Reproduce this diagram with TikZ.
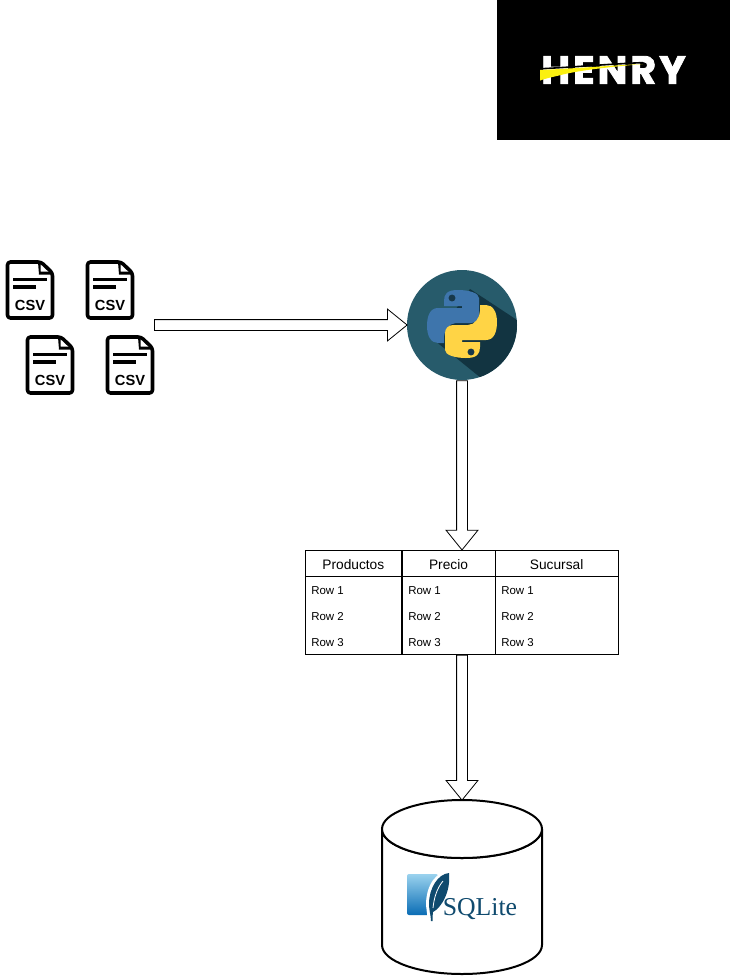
\documentclass[tikz,border=0pt]{standalone}
\usepackage{fontspec}
\setmainfont{Liberation Sans}
\newfontfamily\logofont{Poppins}[BoldFeatures={FakeBold=2.2}]
\newfontfamily\sqlfont{Liberation Serif}
\usetikzlibrary{calc,shapes.arrows}
\definecolor{pybg}{HTML}{275B6B}
\definecolor{pyshadow}{HTML}{123441}
\definecolor{pyblue}{HTML}{3E75AC}
\definecolor{pyyellow}{HTML}{FFD445}
\definecolor{pyeye}{HTML}{17384A}
\definecolor{sqlnavy}{HTML}{0F4A6E}
\definecolor{sqllight}{HTML}{9AD2EE}
\definecolor{sqldark}{HTML}{0A6DB5}
\definecolor{swoosh}{HTML}{FBF010}
\tikzset{
  blockarr/.style={draw=black,fill=white,line width=.6pt,single arrow,inner sep=3.75pt,
    minimum width=23.4pt,single arrow head extend=7.9pt,single arrow head indent=0pt,
    single arrow tip angle=78},
  headcell/.style={font=\fontsize{10.3pt}{12pt}\selectfont,anchor=center,inner sep=0pt},
  rowcell/.style={font=\fontsize{8.6pt}{10pt}\selectfont,anchor=west,inner sep=0pt},
  tablebox/.style={draw=black,line width=.6pt,inner sep=0pt,minimum width=235.1pt,minimum height=78.4pt},
  tablerule/.style={draw=black,line width=.6pt},
  docline/.style={line width=2.7pt,line join=round},
  csvdoc/.pic={
    \draw[docline,rounded corners=2.2pt,fill=white] (-22.5,-28) -- (11,-28) -- (22.5,-17) -- (22.5,28) -- (-22.5,28) -- cycle;
    \fill[black] (10.5,-28) -- (10.5,-18.5) -- (22.5,-18.5) -- (22.5,-15.5) -- (9,-15.5) -- (8,-28) -- cycle;
    \draw[line width=2.6pt] (-17,-10.5) -- (17,-10.5);
    \draw[line width=2.6pt] (-17,-3.2) -- (6,-3.2);
    \node[inner sep=0pt,font=\fontsize{11pt}{12pt}\selectfont\bfseries] (-label) at (0,15) {CSV};
  }
}
\newcommand{\blockconn}[3]{%
  \path let \p1=($(#3)-(#2)$),\n1={atan2(\y1,\x1)},\n2={veclen(\x1,\y1)} in
    (#2) node[blockarr,rotate=\n1,minimum height=\n2,anchor=tail] (#1) {};}
\begin{document}
\begin{tikzpicture}[x=.75pt,y=-.75pt]
\useasboundingbox (0,0) rectangle (732,976);
% HENRY logo
\node[fill=black,inner sep=0pt,minimum width=174.75pt,minimum height=105pt,anchor=north west] (logo) at (497,0) {};
\node[text=white,inner sep=0pt,font=\logofont\bfseries\fontsize{29.5pt}{30pt}\selectfont] (henry) at (613.5,70) {H\kern2.4pt E\kern2.4pt N\kern2.4pt R\kern2.4pt Y};
\draw[black,line width=1.2pt] (540,68.8) .. controls (575,67) and (610,64) .. (643,62.6);
\fill[swoosh] (540,70) .. controls (575,68.5) and (610,65.5) .. (643,64) .. controls (615,66.5) and (585,69.5) .. (565,74) .. controls (555,76.5) and (547,78) .. (540,80.5) -- cycle;
% CSV files
\pic (d1) at (30,290) {csvdoc};
\pic (d2) at (110,290) {csvdoc};
\pic (d3) at (50,365) {csvdoc};
\pic (d4) at (130,365) {csvdoc};
\coordinate (src) at (154,325);
% Python
\node[circle,fill=pybg,inner sep=0pt,minimum size=82.5pt] (py) at (462,325) {};
\begin{scope}
  \clip (462,325) circle [radius=41.25pt];
  \fill[pyshadow] (470,289) -- (517,320) -- (535,332) -- (535,410) -- (481,378) -- (434,340) -- cycle;
\end{scope}
\fill[pyblue] (458,290) .. controls (447,290) and (444,294) .. (444,301) -- (444,306) -- (462,306) -- (462,308) -- (438,308)
  .. controls (430,308) and (427,316) .. (427,326) .. controls (427,336) and (431,343) .. (438,343) -- (444,343) -- (444,337)
  .. controls (444,331) and (449,323) .. (456,323) -- (471,323) .. controls (476,323) and (479,319) .. (479,315) -- (479,298)
  .. controls (479,293) and (469,290) .. (458,290) -- cycle;
\fill[pyyellow] (466,358) .. controls (477,358) and (480,354) .. (480,347) -- (480,342) -- (462,342) -- (462,340) -- (486,340)
  .. controls (494,340) and (497,332) .. (497,322) .. controls (497,312) and (493,305) .. (486,305) -- (480,305) -- (480,311)
  .. controls (480,317) and (475,325) .. (468,325) -- (453,325) .. controls (448,325) and (445,329) .. (445,333) -- (445,350)
  .. controls (445,355) and (455,358) .. (466,358) -- cycle;
\fill[pyeye] (452,298) circle [radius=2.6pt];
\fill[pyeye] (471,352) circle [radius=2.6pt];
% Table
\node[tablebox] (tbl) at (462,602.2) {};
\draw[tablerule] (305,576.5) -- (619,576.5);
\draw[tablerule,line width=.9pt] (402,550) -- (402,654.5);
\draw[tablerule] (495,550) -- (495,654.5);
\node[headcell] (h1) at (353.3,564.7) {Productos};
\node[headcell] (h2) at (448.5,564.7) {Precio};
\node[headcell] (h3) at (556.6,564.7) {Sucursal};
\node[rowcell] (a1) at (311,590.7) {Row 1};
\node[rowcell] (a2) at (311,616.7) {Row 2};
\node[rowcell] (a3) at (311,642.7) {Row 3};
\node[rowcell] (b1) at (408,590.7) {Row 1};
\node[rowcell] (b2) at (408,616.7) {Row 2};
\node[rowcell] (b3) at (408,642.7) {Row 3};
\node[rowcell] (c1) at (501,590.7) {Row 1};
\node[rowcell] (c2) at (501,616.7) {Row 2};
\node[rowcell] (c3) at (501,642.7) {Row 3};
% Database cylinder
\node[inner sep=0pt,minimum width=120pt,minimum height=130.5pt] (db) at (462,887) {};
\draw[line width=1.5pt,fill=white] (382,829) arc[start angle=180,end angle=360,x radius=60pt,y radius=21.75pt]
  -- (542,945) arc[start angle=0,end angle=-180,x radius=60pt,y radius=21.75pt] -- cycle;
\draw[line width=1.5pt,fill=white] (462,829) ellipse [x radius=60pt,y radius=21.75pt];
% SQLite logo
\shade[top color=sqllight,bottom color=sqldark,rounded corners=1.5pt] (407,874) rectangle (438,915);
\fill[white] (451,870) .. controls (436,871) and (426,885) .. (426,905) -- (428,922) -- (436,918) -- (443,912) -- (453,880) -- cycle;
\fill[sqlnavy] (449,873) .. controls (438,874) and (429,888) .. (429,904) .. controls (429,910) and (431,916) .. (431,921) -- (432.5,921) .. controls (432.5,918) and (432.5,915) .. (433,912) .. controls (441,908) and (451,892) .. (449,873) -- cycle;
\draw[white,line width=.6pt] (443,881) .. controls (437,888) and (434,898) .. (433,908);
\node[inner sep=0pt,anchor=base west,text=sqlnavy,font=\sqlfont\fontsize{19.3pt}{20pt}\selectfont] (sql) at (442.5,915) {SQLite};
% Connectors
\blockconn{a1c}{src}{py.west}
\blockconn{a2c}{py.south}{tbl.north}
\blockconn{a3c}{tbl.south}{db.north}
\end{tikzpicture}
\end{document}
